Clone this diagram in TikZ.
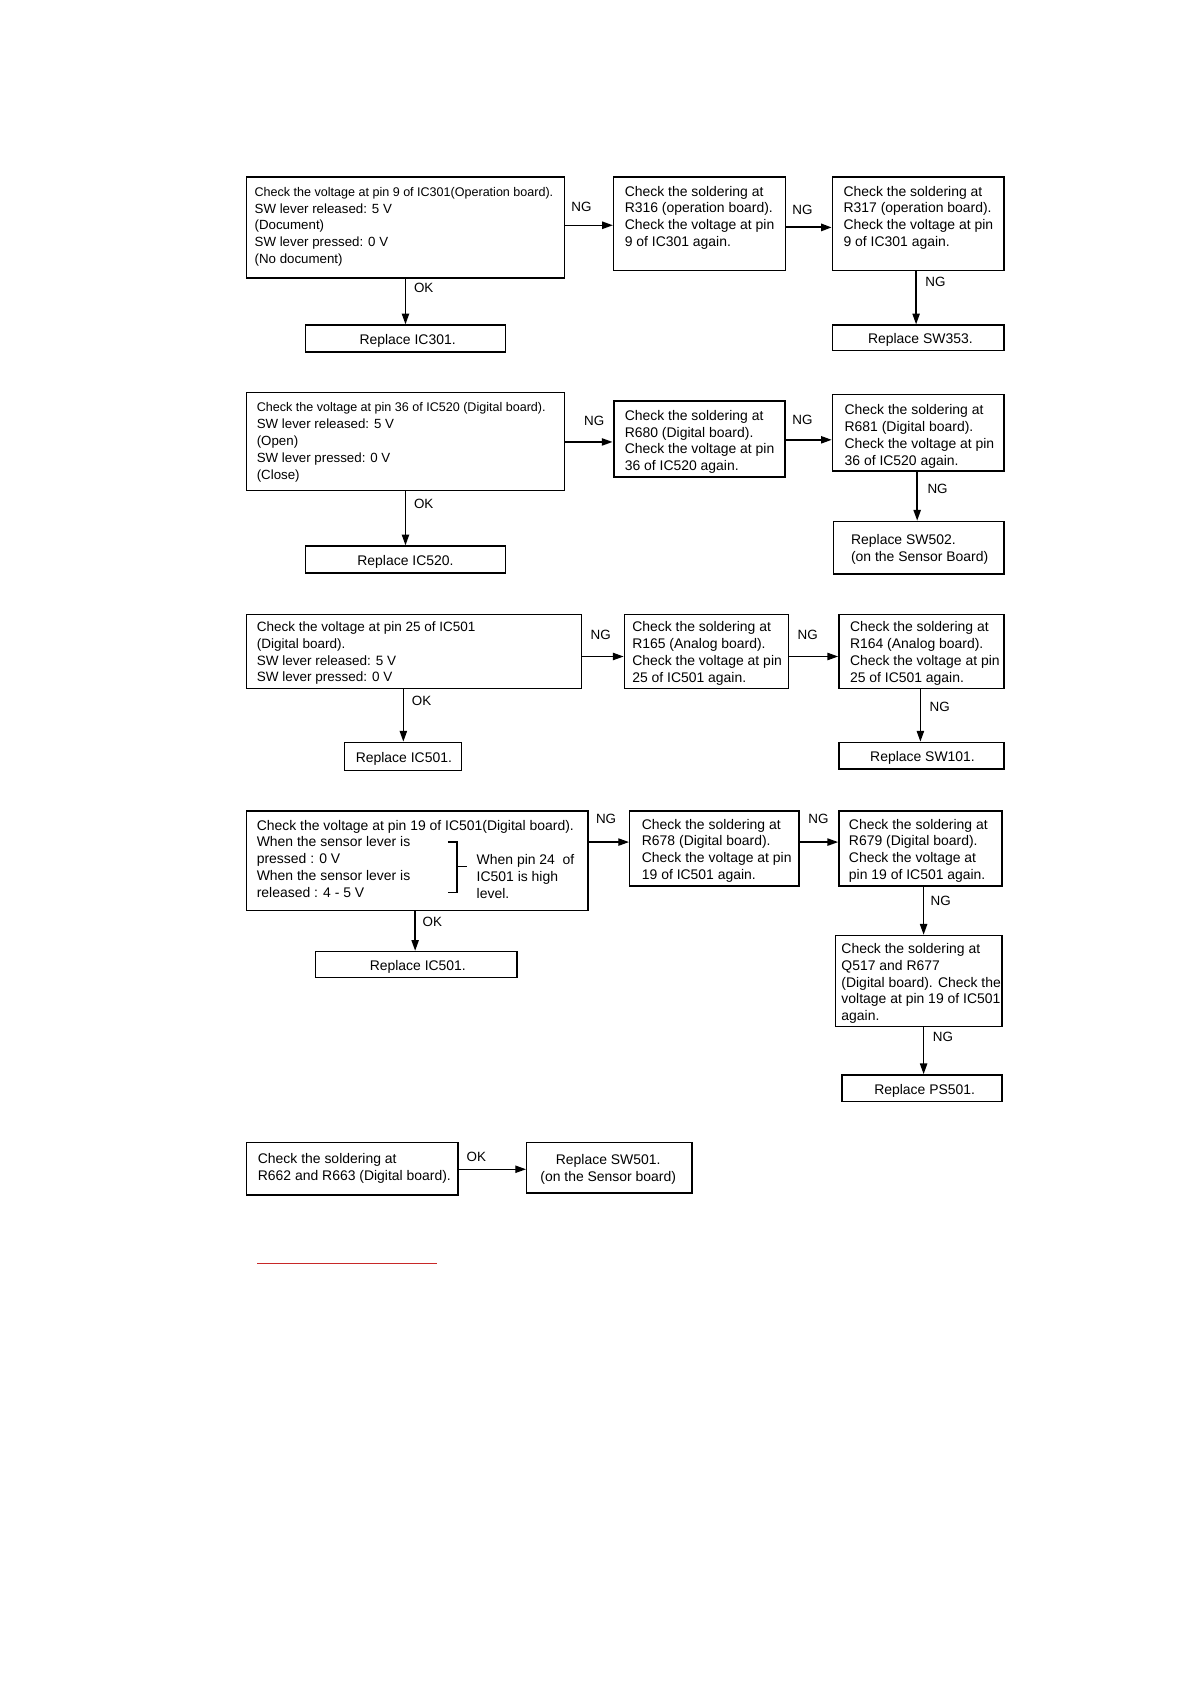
\documentclass[tikz,border=0pt]{standalone}
\usepackage{fontspec}
\setmainfont{Liberation Sans}
\usetikzlibrary{fit,arrows.meta}
\begin{document}
\begin{tikzpicture}[x=0.5pt,y=-0.5pt,
  box/.style={draw, line width=0.65pt, inner sep=0pt},
  txt/.style={anchor=north west, inner sep=0pt, align=left, font=\fontsize{6.5}{7.85}\selectfont},
  txtc/.style={inner sep=0pt, align=center, font=\fontsize{6.5}{7.85}\selectfont},
  txta/.style={anchor=north west, inner sep=0pt, align=left, font=\fontsize{6.2}{7.85}\selectfont},
  lbl/.style={inner sep=0pt, font=\fontsize{6.25}{7.5}\selectfont},
  arr/.style={line width=0.65pt, -{Triangle[length=5pt,width=3.4pt]}}]
\useasboundingbox[fill=white] (0,0) rectangle (1109,1568);
\newcommand{\fl}{\fontsize{5.85}{7.85}\selectfont}
% ---------- section 1
\node[box, fit={(230,165)(526,259)}] (A1) {};
\node[box, fit={(572,165)(732,252)}] (B1) {};
\node[box, fit={(776,165)(936,252)}] (C1) {};
\node[box, fit={(285,303)(471,328)}] (D1) {};
\node[box, fit={(776,303)(936,327)}] (E1) {};
\node[txta] (A1t) at (237,174) {{\fl Check the voltage at pin 9 of IC301(Operation board).}\\SW lever released: 5 V\\(Document)\\SW lever pressed: 0 V\\(No document)};
\node[txt] (B1t) at (582,173) {Check the soldering at\\R316 (operation board).\\Check the voltage at pin\\9 of IC301 again.};
\node[txt] (C1t) at (786,173) {Check the soldering at\\R317 (operation board).\\Check the voltage at pin\\9 of IC301 again.};
\node[txtc] (D1t) at (380,318) {Replace IC301.};
\node[txtc] (E1t) at (858,317) {Replace SW353.};
\coordinate (h11) at (0,210);
\coordinate (h12) at (0,212);
\coordinate (v11) at (378,0);
\coordinate (v12) at (854,0);
\draw[arr] (A1.east |- h11) -- (B1.west |- h11);
\draw[arr, line width=1pt] (B1.east |- h12) -- (C1.west |- h12);
\draw[arr] (A1.south -| v11) -- (D1.north -| v11);
\draw[arr] (C1.south -| v12) -- (E1.north -| v12);
\node[lbl] (n11) at (542,193) {NG};
\node[lbl] (n12) at (748,196) {NG};
\node[lbl] (o11) at (395,268) {OK};
\node[lbl] (n13) at (872,263) {NG};
% ---------- section 2
\node[box, fit={(230,366)(526,457)}] (A2) {};
\node[box, line width=1pt, fit={(572,374)(732,445)}] (B2) {};
\node[box, fit={(776,368)(936,439)}] (C2) {};
\node[box, fit={(285,509)(471,534)}] (D2) {};
\node[box, fit={(777,486)(936,535)}] (E2) {};
\node[txta] (A2t) at (239,375) {{\fl Check the voltage at pin 36 of IC520 (Digital board).}\\SW lever released: 5 V\\(Open)\\SW lever pressed: 0 V\\(Close)};
\node[txt] (B2t) at (582,382) {Check the soldering at\\R680 (Digital board).\\Check the voltage at pin\\36 of IC520 again.};
\node[txt] (C2t) at (787,377) {Check the soldering at\\R681 (Digital board).\\Check the voltage at pin\\36 of IC520 again.};
\node[txtc] (D2t) at (378,524) {Replace IC520.};
\node[txt] (E2t) at (793,498) {Replace SW502.\\(on the Sensor Board)};
\coordinate (h21) at (0,412);
\coordinate (h22) at (0,410);
\coordinate (v21) at (378,0);
\coordinate (v22) at (855,0);
\draw[arr] (A2.east |- h21) -- (B2.west |- h21);
\draw[arr] (B2.east |- h22) -- (C2.west |- h22);
\draw[arr] (A2.south -| v21) -- (D2.north -| v21);
\draw[arr] (C2.south -| v22) -- (E2.north -| v22);
\node[lbl] (n21) at (554,392) {NG};
\node[lbl] (n22) at (748,391) {NG};
\node[lbl] (o21) at (395,470) {OK};
\node[lbl] (n23) at (874,456) {NG};
% ---------- section 3
\node[box, fit={(230,573)(542,642)}] (A3) {};
\node[box, fit={(582,573)(735,642)}] (B3) {};
\node[box, fit={(782,573)(936,642)}] (C3) {};
\node[box, fit={(321,692)(430,718)}] (D3) {};
\node[box, fit={(782,692)(936,717)}] (E3) {};
\node[txt, font=\fontsize{6.3}{7.85}\selectfont] (A3t) at (239,579) {Check the voltage at pin 25 of IC501\\(Digital board).\\SW lever released: 5 V\\SW lever pressed: 0 V};
\node[txt] (B3t) at (589,579) {Check the soldering at\\R165 (Analog board).\\Check the voltage at pin\\25 of IC501 again.};
\node[txt] (C3t) at (792,579) {Check the soldering at\\R164 (Analog board).\\Check the voltage at pin\\25 of IC501 again.};
\node[txtc] (D3t) at (376.5,707) {Replace IC501.};
\node[txtc] (E3t) at (860,706.5) {Replace SW101.};
\coordinate (h31) at (0,612);
\coordinate (v31) at (376,0);
\coordinate (v32) at (858,0);
\draw[arr] (A3.east |- h31) -- (B3.west |- h31);
\draw[arr] (B3.east |- h31) -- (C3.west |- h31);
\draw[arr] (A3.south -| v31) -- (D3.north -| v31);
\draw[arr] (C3.south -| v32) -- (E3.north -| v32);
\node[lbl] (n31) at (560,592) {NG};
\node[lbl] (n32) at (753,592) {NG};
\node[lbl] (o31) at (393,653) {OK};
\node[lbl] (n33) at (876,659) {NG};
% ---------- section 4
\node[box, fit={(230,756)(548,849)}] (A4) {};
\node[box, fit={(587,756)(745,826)}] (B4) {};
\node[box, fit={(782,756)(934,826)}] (C4) {};
\node[box, fit={(294,887)(482,911)}] (D4) {};
\node[box, fit={(779,872)(934,957)}] (F4) {};
\node[box, fit={(785,1002)(934,1027)}] (E4) {};
\node[txt] (A4t) at (239,764) {Check the voltage at pin 19 of IC501(Digital board).\\When the sensor lever is\\pressed : 0 V\\When the sensor lever is\\released : 4 - 5 V};
\node[txt] (A4r) at (444,796) {When pin 24\ \ of\\IC501 is high\\level.};
\draw[line width=0.6pt] (417.5,785) -- (426,785) -- (426,832) -- (417.5,832);
\draw[line width=0.6pt] (426,808) -- (435,808);
\node[txt] (B4t) at (598,763) {Check the soldering at\\R678 (Digital board).\\Check the voltage at pin\\19 of IC501 again.};
\node[txt] (C4t) at (791,763) {Check the soldering at\\R679 (Digital board).\\Check the voltage at\\pin 19 of IC501 again.};
\node[txtc] (D4t) at (389.5,901) {Replace IC501.};
\node[txt] (F4t) at (784,879) {Check the soldering at\\Q517 and R677\\(Digital board). Check the\\voltage at pin 19 of IC501\\again.};
\node[txtc] (E4t) at (862,1016.5) {Replace PS501.};
\coordinate (h41) at (0,785);
\coordinate (v41) at (387,0);
\coordinate (v42) at (861,0);
\draw[arr] (A4.east |- h41) -- (B4.west |- h41);
\draw[arr] (B4.east |- h41) -- (C4.west |- h41);
\draw[arr] (A4.south -| v41) -- (D4.north -| v41);
\draw[arr] (C4.south -| v42) -- (F4.north -| v42);
\draw[arr] (F4.south -| v42) -- (E4.north -| v42);
\node[lbl] (n41) at (565,763) {NG};
\node[lbl] (n42) at (763,763) {NG};
\node[lbl] (o41) at (403,859) {OK};
\node[lbl] (n43) at (877,840) {NG};
\node[lbl] (n44) at (879,967) {NG};
% ---------- section 5
\node[box, fit={(230,1065)(427,1114)}] (A5) {};
\node[box, fit={(491,1065)(645,1112)}] (B5) {};
\node[txt] (A5t) at (240,1075) {Check the soldering at\\R662 and R663 (Digital board).};
\node[txtc] (B5t) at (567,1090) {Replace SW501.\\(on the Sensor board)};
\coordinate (h51) at (0,1090);
\draw[arr] (A5.east |- h51) -- (B5.west |- h51);
\node[lbl] (o51) at (444,1078) {OK};
% ---------- red rule
\definecolor{rulered}{RGB}{200,40,40}
\draw[rulered, line width=0.55pt] (240,1178) -- (407,1178);
\end{tikzpicture}
\end{document}
